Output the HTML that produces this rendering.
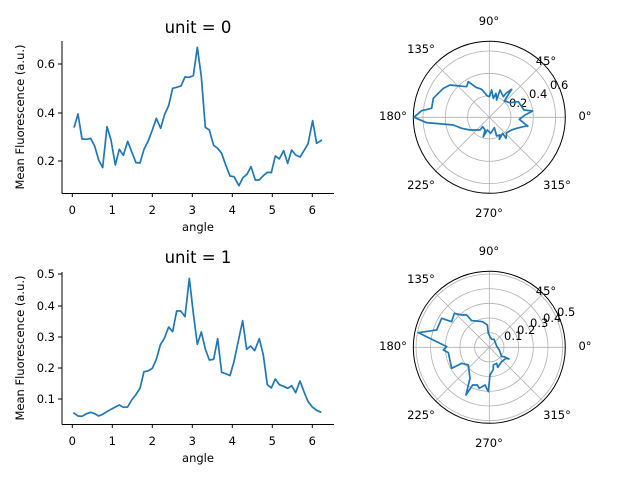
<!DOCTYPE html>
<html><head><style>body{margin:0;background:#fff}svg{display:block}text{font-family:"DejaVu Sans","Liberation Sans",sans-serif;fill:#000}</style></head><body>
<svg width="640" height="480" viewBox="0 0 640 480" xmlns="http://www.w3.org/2000/svg">
<rect width="640" height="480" fill="#fff"/>
<!-- Top left -->
<g>
<line x1="62" y1="41" x2="62" y2="193.5" stroke="#000" stroke-width="1"/>
<line x1="62" y1="193.5" x2="334" y2="193.5" stroke="#000" stroke-width="1"/>
<g stroke="#000"><line x1="72.3" y1="193" x2="72.3" y2="197"/><line x1="112.3" y1="193" x2="112.3" y2="197"/><line x1="152.3" y1="193" x2="152.3" y2="197"/><line x1="192.3" y1="193" x2="192.3" y2="197"/><line x1="232.3" y1="193" x2="232.3" y2="197"/><line x1="272.3" y1="193" x2="272.3" y2="197"/><line x1="312.3" y1="193" x2="312.3" y2="197"/>
<line x1="58" y1="64" x2="62" y2="64"/><line x1="58" y1="113" x2="62" y2="113"/><line x1="58" y1="161" x2="62" y2="161"/></g>
<g font-size="11.5" text-anchor="middle"><text x="72.3" y="214">0</text><text x="112.3" y="214">1</text><text x="152.3" y="214">2</text><text x="192.3" y="214">3</text><text x="232.3" y="214">4</text><text x="272.3" y="214">5</text><text x="312.3" y="214">6</text></g>
<g font-size="11.5" text-anchor="end"><text x="55" y="68">0.6</text><text x="55" y="117">0.4</text><text x="55" y="165">0.2</text></g>
<text x="198" y="231" font-size="11.5" text-anchor="middle">angle</text>
<text x="198" y="33" font-size="16.5" text-anchor="middle">unit = 0</text>
<text transform="translate(24,117) rotate(-90)" font-size="11.5" text-anchor="middle">Mean Fluorescence (a.u.)</text>
<g transform="translate(60,30) scale(0.3333)"><polyline fill="none" stroke="#1f77b4" stroke-width="1.7" vector-effect="non-scaling-stroke" stroke-linejoin="round" points="42,293 54,252 66,327 80,328 92,325 104,348 116,390 128,413 141,290 153,330 166,405 178,358 190,376 203,334 215,365 228,398 240,399 252,358 265,332 277,300 289,265 302,295 314,253 326,227 338,175 350,172 363,168 375,141 387,142 400,137 412,52 424,140 436,292 448,300 461,346 473,355 485,370 497,405 510,438 522,440 537,467 549,443 561,433 573,410 586,450 598,450 610,437 622,427 634,428 646,378 658,387 671,362 683,400 695,360 707,375 720,381 732,362 744,342 758,272 770,340 786,330"/></g>
</g>
<!-- Bottom left -->
<g>
<line x1="62" y1="272" x2="62" y2="424.5" stroke="#000"/>
<line x1="62" y1="424.5" x2="334" y2="424.5" stroke="#000"/>
<g stroke="#000"><line x1="72.3" y1="424" x2="72.3" y2="428"/><line x1="112.3" y1="424" x2="112.3" y2="428"/><line x1="152.3" y1="424" x2="152.3" y2="428"/><line x1="192.3" y1="424" x2="192.3" y2="428"/><line x1="232.3" y1="424" x2="232.3" y2="428"/><line x1="272.3" y1="424" x2="272.3" y2="428"/><line x1="312.3" y1="424" x2="312.3" y2="428"/>
<line x1="58" y1="274" x2="62" y2="274"/><line x1="58" y1="306" x2="62" y2="306"/><line x1="58" y1="337" x2="62" y2="337"/><line x1="58" y1="368" x2="62" y2="368"/><line x1="58" y1="399" x2="62" y2="399"/></g>
<g font-size="11.5" text-anchor="middle"><text x="72.3" y="445">0</text><text x="112.3" y="445">1</text><text x="152.3" y="445">2</text><text x="192.3" y="445">3</text><text x="232.3" y="445">4</text><text x="272.3" y="445">5</text><text x="312.3" y="445">6</text></g>
<g font-size="11.5" text-anchor="end"><text x="55" y="278">0.5</text><text x="55" y="310">0.4</text><text x="55" y="341">0.3</text><text x="55" y="372">0.2</text><text x="55" y="403">0.1</text></g>
<text x="198" y="462" font-size="11.5" text-anchor="middle">angle</text>
<text x="198" y="263" font-size="16.5" text-anchor="middle">unit = 1</text>
<text transform="translate(24,348) rotate(-90)" font-size="11.5" text-anchor="middle">Mean Fluorescence (a.u.)</text>
<g transform="translate(60,260) scale(0.3333)"><polyline fill="none" stroke="#1f77b4" stroke-width="1.7" vector-effect="non-scaling-stroke" stroke-linejoin="round" points="40,458 54,468 66,469 78,462 92,457 104,461 116,468 128,463 141,455 153,448 166,441 178,435 190,442 203,441 215,420 227,405 240,385 252,335 264,333 277,325 289,298 301,255 313,235 326,201 338,215 350,153 362,153 375,170 388,55 400,160 412,253 424,216 436,267 448,300 461,298 473,236 485,337 497,341 510,347 522,305 535,243 548,182 560,268 572,258 584,272 598,236 610,285 622,374 634,384 646,357 658,374 671,379 683,385 695,377 707,398 720,363 732,395 744,424 756,440 770,451 784,457"/></g>
</g>
<!-- Top polar -->
<g transform="translate(489.3,117.3)">
<g fill="none" stroke="#b0b0b0" stroke-width="0.8"><circle r="21.7"/><circle r="44"/><circle r="66.3"/>
<line x1="-76" y1="0" x2="76" y2="0"/><line x1="0" y1="-76" x2="0" y2="76"/><line x1="-53.7" y1="-53.7" x2="53.7" y2="53.7"/><line x1="-53.7" y1="53.7" x2="53.7" y2="-53.7"/></g>
<circle r="76" fill="none" stroke="#000" stroke-width="1"/>
</g>
<g font-size="11.5" text-anchor="middle"><text x="585" y="120">0°</text><text x="546" y="65">45°</text><text x="489" y="25">90°</text><text x="421" y="53">135°</text><text x="393" y="120">180°</text><text x="421" y="189">225°</text><text x="489" y="217">270°</text><text x="557" y="189">315°</text></g>
<g font-size="11.5"><text x="509" y="107">0.2</text><text x="529" y="98">0.4</text><text x="550" y="89">0.6</text></g>
<g transform="translate(400,30) scale(0.3333)"><polyline fill="none" stroke="#1f77b4" stroke-width="1.7" vector-effect="non-scaling-stroke" stroke-linejoin="round" points="385,290 358,268 375,255 398,243 372,240 355,215 330,218 313,213 335,178 318,190 310,200 300,180 290,210 288,190 280,205 275,180 268,200 262,198 245,178 228,172 205,155 200,170 150,165 130,175 100,205 95,235 65,242 42,262 80,278 160,285 185,295 210,300 240,300 248,290 255,300 250,320 262,300 272,310 283,293 290,318 300,315 298,328 308,310 318,325 320,308 335,300 350,295 382,287 385,290"/></g>
<!-- Bottom polar -->
<g transform="translate(489.3,347.3)">
<g fill="none" stroke="#b0b0b0" stroke-width="0.8"><circle r="14.7"/><circle r="29.3"/><circle r="44"/><circle r="58.7"/><circle r="73.3"/>
<line x1="-76" y1="0" x2="76" y2="0"/><line x1="0" y1="-76" x2="0" y2="76"/><line x1="-53.7" y1="-53.7" x2="53.7" y2="53.7"/><line x1="-53.7" y1="53.7" x2="53.7" y2="-53.7"/></g>
<circle r="76" fill="none" stroke="#000" stroke-width="1"/>
</g>
<g font-size="11.5" text-anchor="middle"><text x="585" y="350">0°</text><text x="546" y="295">45°</text><text x="489" y="255">90°</text><text x="421" y="283">135°</text><text x="393" y="350">180°</text><text x="421" y="419">225°</text><text x="489" y="447">270°</text><text x="557" y="419">315°</text></g>
<g font-size="11.5"><text x="504" y="340">0.1</text><text x="517" y="334">0.2</text><text x="530" y="327">0.3</text><text x="543" y="322">0.4</text><text x="557" y="316">0.5</text></g>
<g transform="translate(400,260) scale(0.3333)"><polyline fill="none" stroke="#1f77b4" stroke-width="1.7" vector-effect="non-scaling-stroke" stroke-linejoin="round" points="318,295 327,297 312,290 305,290 298,270 290,258 285,245 282,238 275,238 270,230 265,220 262,195 248,185 230,183 215,182 200,165 185,165 163,160 155,185 125,175 110,210 95,212 55,218 140,260 130,270 145,278 155,325 185,310 205,315 210,355 198,405 218,375 232,375 238,385 255,375 265,395 270,345 280,328 280,315 290,310 293,322 305,305 318,295"/></g>
</svg>
</body></html>
